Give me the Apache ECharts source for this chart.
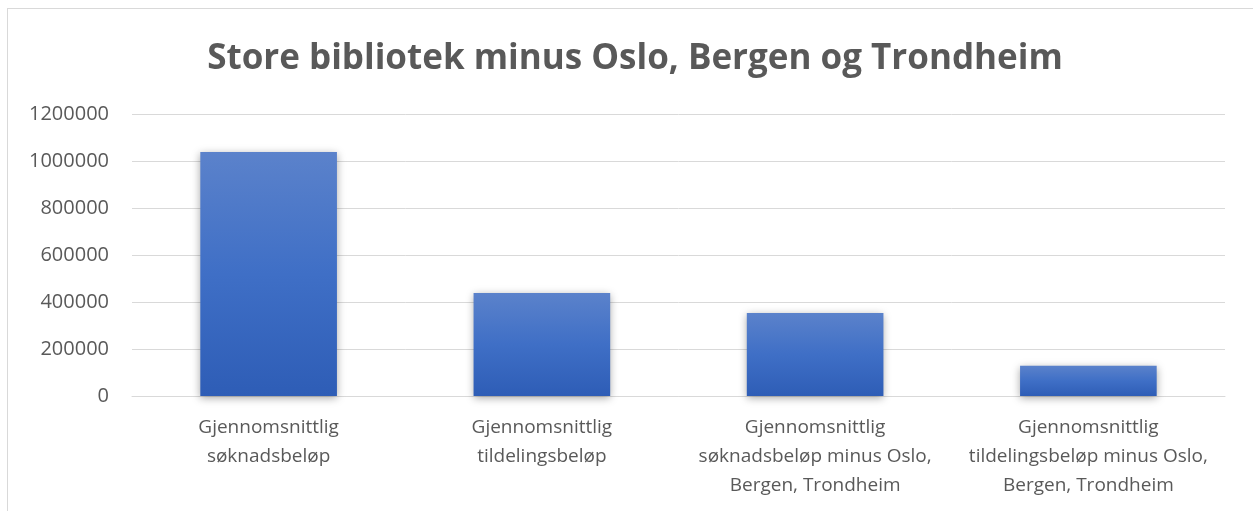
<!DOCTYPE html>
<html>
<head>
<meta charset="utf-8">
<script src="https://cdn.jsdelivr.net/npm/echarts@6/dist/echarts.min.js"></script>
<style>
  html, body { margin: 0; padding: 0; background: #fff; }
  #frame { position: absolute; left: 7px; top: 8px; width: 1260px; height: 520px; border: 1px solid #d9d9d9; }
  #chart { position: absolute; left: 0; top: 0; width: 1253px; height: 511px; }
</style>
</head>
<body>
<div id="frame"></div>
<div id="chart"></div>
<script>
// Store bibliotek – gjennomsnittlige beløp
const categories = [
  'Gjennomsnittlig\nsøknadsbeløp',
  'Gjennomsnittlig\ntildelingsbeløp',
  'Gjennomsnittlig\nsøknadsbeløp minus Oslo,\nBergen, Trondheim',
  'Gjennomsnittlig\ntildelingsbeløp minus Oslo,\nBergen, Trondheim'
]
const values = [1038000, 438000, 353000, 129000]
const yTicks = [0, 200000, 400000, 600000, 800000, 1000000, 1200000]

const font = "'Open Sans', 'Noto Sans', sans-serif"
let chart = echarts.init(document.getElementById('chart'))
let options = {
  animation: false,
  title: {
    text: 'Store bibliotek minus Oslo, Bergen og Trondheim',
    left: 630,
    textAlign: 'center',
    top: 37,
    textStyle: { fontFamily: font, fontSize: 35, fontWeight: 'bold', color: '#595959' }
  },
  grid: { left: 132, right: 28, top: 114, bottom: 115 },
  xAxis: {
    type: 'category',
    data: categories,
    axisLine: { lineStyle: { color: '#d9d9d9', width: 1 } },
    axisTick: { show: false },
    axisLabel: { fontFamily: font, fontSize: 19, color: '#595959', lineHeight: 29, margin: 17, interval: 0 }
  },
  yAxis: {
    type: 'value',
    min: yTicks[0],
    max: yTicks[yTicks.length - 1],
    interval: 200000,
    axisLine: { show: false },
    axisTick: { show: false },
    splitLine: { lineStyle: { color: '#d9d9d9', width: 1 } },
    axisLabel: {
      fontFamily: font, fontSize: 20, color: '#595959', margin: 23,
      formatter: v => String(v)
    }
  },
  series: [{
    type: 'bar',
    data: values,
    barWidth: '50%',
    itemStyle: {
      color: new echarts.graphic.LinearGradient(0, 0, 0, 1, [
        { offset: 0, color: '#5b82cb' },
        { offset: 0.5, color: '#3f6fc6' },
        { offset: 1, color: '#2e5db6' }
      ]),
      shadowBlur: 8,
      shadowColor: 'rgba(0,0,0,0.35)',
      shadowOffsetY: 2
    }
  }]
}
chart.setOption(options)
</script>
</body>
</html>
